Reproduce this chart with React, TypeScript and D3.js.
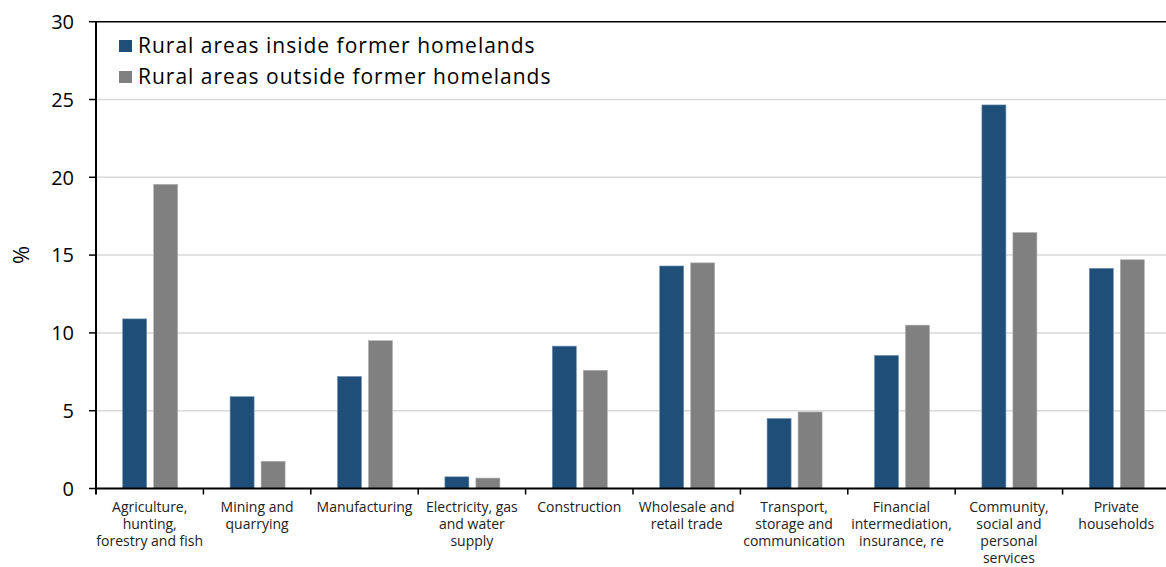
import React from "react";
import * as d3 from "d3";

const categories: string[][] = [
  ["Agriculture,", "hunting,", "forestry and fish"],
  ["Mining and", "quarrying"],
  ["Manufacturing"],
  ["Electricity, gas", "and water", "supply"],
  ["Construction"],
  ["Wholesale and", "retail trade"],
  ["Transport,", "storage and", "communication"],
  ["Financial", "intermediation,", "insurance, re"],
  ["Community,", "social and", "personal", "services"],
  ["Private", "households"],
];
const insideValues = [10.9, 5.9, 7.2, 0.75, 9.15, 14.3, 4.5, 8.55, 24.65, 14.15];
const outsideValues = [19.55, 1.75, 9.5, 0.67, 7.6, 14.5, 4.92, 10.5, 16.45, 14.7];
const seriesNames = ["Rural areas inside former homelands", "Rural areas outside former homelands"];
const yTicks = [0, 5, 10, 15, 20, 25, 30];

const W = 1166, H = 567;
const left = 96, right = 1170, top = 21.7, bottom = 488.5;
const colors = ["#1f4e79", "#808080"];
const font = "'Open Sans', Lato, sans-serif";

export default function App() {
  const idx = categories.map((_, i) => i);
  const x = d3.scaleBand<number>().domain(idx).range([left, right]).paddingInner(0).paddingOuter(0);
  const y = d3.scaleLinear().domain([0, 30]).range([bottom, top]);
  const bw = 24, gap = 7;
  const series = [insideValues, outsideValues];
  return (
    <svg width={W} height={H} style={{ position: "absolute", left: 0, top: 0, background: "#fff" }}>
      {yTicks.filter(t => t > 0 && t < 30).map(t => (
        <line key={"g" + t} x1={left} x2={W} y1={y(t)} y2={y(t)} stroke="#d9d9d9" strokeWidth={1.5} />
      ))}
      <line x1={left} x2={W} y1={y(30)} y2={y(30)} stroke="#000" strokeWidth={1.5} />
      {series.map((vals, s) =>
        vals.map((v, i) => {
          const c = (x(i) as number) + x.bandwidth() / 2;
          const bx = s === 0 ? c - gap / 2 - bw + 0.5 : c + gap / 2 + 0.5;
          return (
            <rect key={s + "-" + i} x={bx} y={y(v)} width={bw} height={bottom - y(v)} fill={colors[s]}
              stroke={s === 0 ? "#6f8fb0" : "#b0b0b0"} strokeWidth={0.6} />
          );
        })
      )}
      <line x1={left} x2={left} y1={top} y2={bottom + 6} stroke="#000" strokeWidth={2} />
      <line x1={left} x2={W} y1={bottom} y2={bottom} stroke="#000" strokeWidth={2} />
      {yTicks.map(t => (
        <g key={"t" + t}>
          <line x1={left - 7} x2={left} y1={y(t)} y2={y(t)} stroke="#000" strokeWidth={1.5} />
          <text x={74} y={y(t)} dy="0.36em" textAnchor="end" fontFamily={font} fontSize={20} fill="#000">{t}</text>
        </g>
      ))}
      {idx.slice(1).map(i => (
        <line key={"xt" + i} x1={x(i) as number} x2={x(i) as number} y1={bottom} y2={bottom + 6} stroke="#000" strokeWidth={1.5} />
      ))}
      {categories.map((lines, i) => {
        const c = (x(i) as number) + x.bandwidth() / 2;
        return (
          <text key={"c" + i} x={c} y={512} textAnchor="middle" fontFamily={font} fontSize={14} fill="#222">
            {lines.map((l, k) => (
              <tspan key={k} x={c} dy={k === 0 ? 0 : 17}>{l}</tspan>
            ))}
          </text>
        );
      })}
      <text transform={`translate(29,255) rotate(-90)`} textAnchor="middle" fontFamily={font} fontSize={22} fill="#000">%</text>
      {seriesNames.map((n, s) => (
        <g key={"l" + s}>
          <rect x={119} y={40 + s * 31} width={13} height={12} fill={colors[s]} />
          <text x={138} y={53 + s * 31} fontFamily={font} fontSize={21} letterSpacing={1} fill="#000">{n}</text>
        </g>
      ))}
    </svg>
  );
}
